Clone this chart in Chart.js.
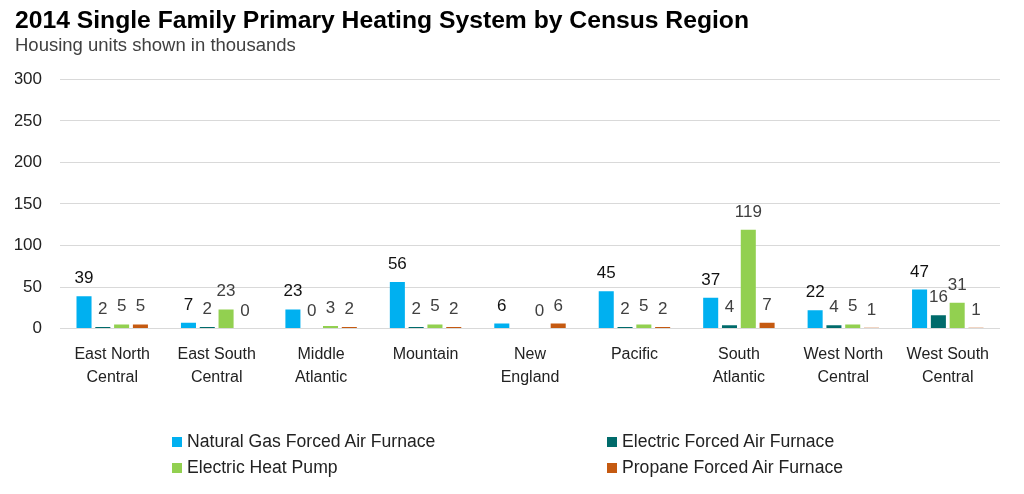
<!DOCTYPE html>
<html lang="en">
  <head>
    <meta charset="UTF-8" />
    <title>2014 Single Family Primary Heating System by Census Region</title>
    <style>
      body { margin: 0; background: #fff; font-family: "Liberation Sans", Arial, sans-serif; }
      .wrap { position: relative; width: 1024px; height: 494px; }
      .legend { position: absolute; left: 0; top: 0; width: 1024px; height: 494px; pointer-events: none; }
      .legend .item { position: absolute; font-size: 17.6px; color: #222; line-height: 20px; white-space: nowrap; }
      .legend .box { display: inline-block; width: 10px; height: 10px; margin-right: 5px; vertical-align: 0px; }
    </style>
  </head>
  <body>
    <div class="wrap">
      <canvas id="chart" width="1024" height="494"></canvas>
      <div class="legend" id="legend"></div>
    </div>
  <script src="https://cdn.jsdelivr.net/npm/chart.js@4/dist/chart.umd.min.js"></script>
  <script>
// data
var regions = [
  ['East North', 'Central'], ['East South', 'Central'], ['Middle', 'Atlantic'],
  ['Mountain'], ['New', 'England'], ['Pacific'],
  ['South', 'Atlantic'], ['West North', 'Central'], ['West South', 'Central']
]
var seriesNames = [
  'Natural Gas Forced Air Furnace', 'Electric Forced Air Furnace',
  'Electric Heat Pump', 'Propane Forced Air Furnace'
]
var naturalGas = [39, 7, 23, 56, 6, 45, 37, 22, 47]
var electricFurnace = [2, 2, 0, 2, null, 2, 4, 4, 16]
var heatPump = [5, 23, 3, 5, 0, 5, 119, 5, 31]
var propane = [5, 0, 2, 2, 6, 2, 7, 1, 1]
var yTicks = [0, 50, 100, 150, 200, 250, 300]

var colors = ['#00B0F0', '#006B6B', '#92D050', '#C55A11']
var labelColors = ['#111111', '#404040', '#404040', '#404040']
var font = '"Liberation Sans", Arial, sans-serif'

// value labels above each bar
var barLabels = {
  id: 'barLabels',
  afterDatasetsDraw(chart) {
    var ctx = chart.ctx
    ctx.save()
    ctx.font = '17px ' + font
    ctx.textAlign = 'center'
    ctx.textBaseline = 'alphabetic'
    chart.data.datasets.forEach(function(ds, i) {
      var meta = chart.getDatasetMeta(i)
      meta.data.forEach(function(bar, j) {
        var v = ds.data[j]
        if (v === null || v === undefined) return
        ctx.fillStyle = labelColors[i]
        ctx.fillText(String(v), bar.x, bar.y - 13)
      })
    })
    ctx.restore()
  }
}

var ctx = document.getElementById('chart').getContext('2d')
var data = [naturalGas, electricFurnace, heatPump, propane]

var chart = new Chart(ctx, {
  type: 'bar',
  data: {
    labels: regions,
    datasets: seriesNames.map(function(name, i) {
      return {
        label: name,
        data: data[i],
        backgroundColor: colors[i],
        categoryPercentage: 0.72,
        barPercentage: 0.8
      }
    })
  },
  options: {
    responsive: false,
    animation: false,
    layout: { padding: { left: 15, right: 24, top: 0, bottom: 99 } },
    plugins: {
      legend: { display: false },
      tooltip: { enabled: false },
      title: {
        display: true,
        text: '2014 Single Family Primary Heating System by Census Region',
        align: 'start',
        color: '#000',
        font: { family: font, size: 24.7, weight: 'bold', lineHeight: 1.1 },
        padding: { top: 8, bottom: 0 }
      },
      subtitle: {
        display: true,
        text: 'Housing units shown in thousands',
        align: 'start',
        color: '#404040',
        font: { family: font, size: 18.5 },
        padding: { top: 0, bottom: 22 }
      }
    },
    scales: {
      x: {
        grid: { display: false },
        border: { display: false },
        ticks: {
          color: '#222',
          font: { family: font, size: 16, lineHeight: 1.45 },
          padding: 6,
          maxRotation: 0,
          autoSkip: false
        }
      },
      y: {
        min: 0,
        max: 300,
        afterBuildTicks: function(scale) {
          scale.ticks = yTicks.map(function(v) { return { value: v } })
        },
        afterFit: function(scale) { scale.width = 45 },
        grid: { color: '#d9d9d9', lineWidth: 1, drawTicks: false },
        border: { display: false },
        ticks: {
          color: '#222',
          font: { family: font, size: 17 },
          padding: 18
        }
      }
    }
  },
  plugins: [barLabels]
})

// two-column legend like the original
var legendPos = [[172, 431], [607, 431], [172, 457], [607, 457]]
var legend = document.getElementById('legend')
seriesNames.forEach(function(name, i) {
  var item = document.createElement('div')
  item.className = 'item'
  item.style.left = legendPos[i][0] + 'px'
  item.style.top = legendPos[i][1] + 'px'
  item.innerHTML = '<span class="box" style="background:' + colors[i] + '"></span>' + name
  legend.appendChild(item)
})
  </script>
  </body>
</html>
